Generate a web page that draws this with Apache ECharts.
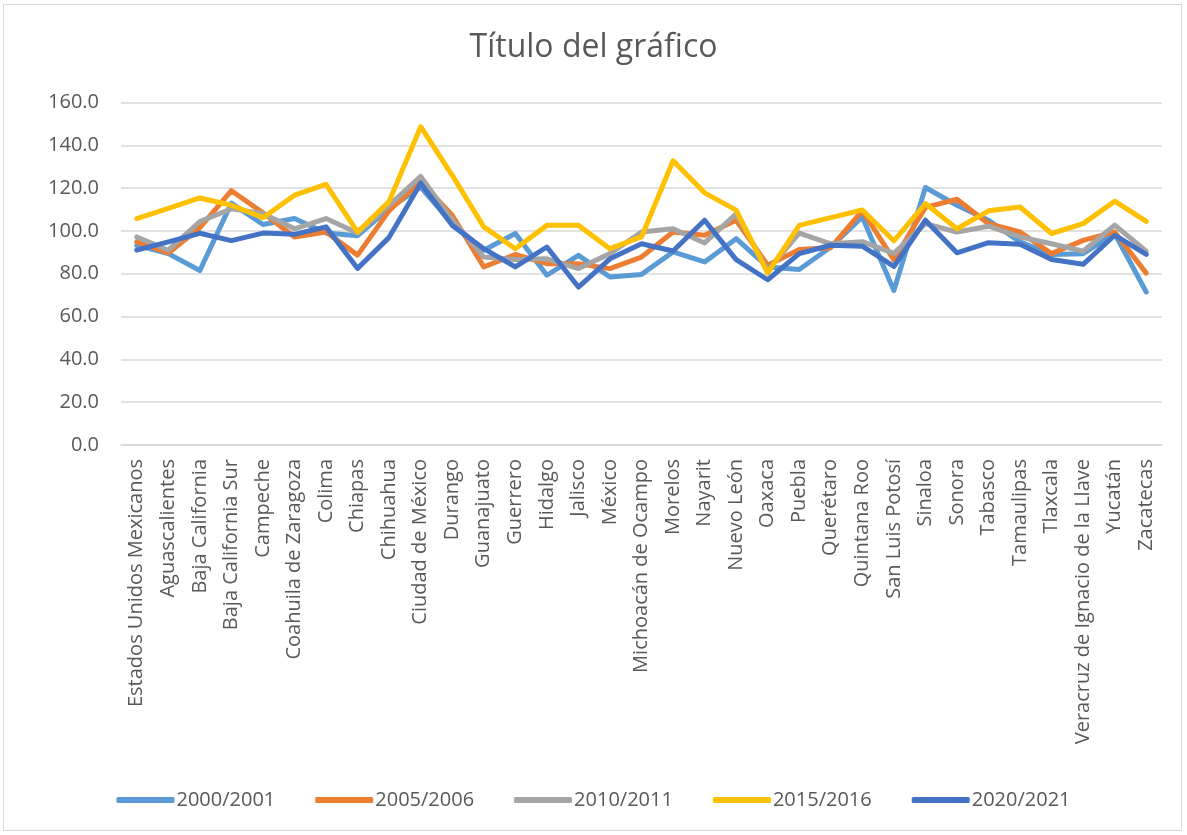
<!DOCTYPE html>
<html>
<head>
<meta charset="utf-8">
<script src="https://cdn.jsdelivr.net/npm/echarts@6/dist/echarts.min.js"></script>
<style>
html,body{margin:0;padding:0;background:#fff;}
#frame{position:absolute;left:3px;top:4px;width:1179px;height:827px;border:1px solid #d9d9d9;box-sizing:border-box;}
#chart{position:absolute;left:0;top:0;width:1187px;height:835px;}
</style>
</head>
<body>
<div id="frame"></div>
<div id="chart"></div>
<script>
const categories = ["Estados Unidos Mexicanos","Aguascalientes","Baja California","Baja California Sur","Campeche","Coahuila de Zaragoza","Colima","Chiapas","Chihuahua","Ciudad de México","Durango","Guanajuato","Guerrero","Hidalgo","Jalisco","México","Michoacán de Ocampo","Morelos","Nayarit","Nuevo León","Oaxaca","Puebla","Querétaro","Quintana Roo","San Luis Potosí","Sinaloa","Sonora","Tabasco","Tamaulipas","Tlaxcala","Veracruz de Ignacio de la Llave","Yucatán","Zacatecas"];
const seriesNames = ["2000/2001","2005/2006","2010/2011","2015/2016","2020/2021"];
const s2000 = [93.3,89.4,81.5,113,103,105.8,99,97.8,110.5,120.5,103.4,91,98.8,79.3,88.6,78.5,79.7,90.2,85.5,96.4,83.2,82,92.5,106.5,72.2,120.3,112,105,94.9,89,89.4,98.8,71.5];
const s2005 = [94.9,89.7,101.5,118.8,108.5,97.2,99.5,88.7,109.5,123,107.3,83.2,89,84.7,84.7,82.4,87.8,99.5,98,105,84,91.3,92.2,109.5,86.5,111,114.8,103.4,99.5,89.4,95.6,99.5,80.3];
const s2010 = [97.2,91,104.4,110.3,108.2,101,105.8,99,112,125.5,105,87.8,86.7,87,82.4,89.4,99.5,101,94.4,108,81.6,99,94,95,89.5,103.4,99.5,102.2,97.2,94,90.5,102.7,90.6];
const s2015 = [105.8,110.5,115.4,112,106.2,116.7,121.7,99.5,113.8,148.7,126,101.9,91.7,102.6,102.6,91.7,97.2,132.8,117.8,109.7,80.3,102.6,106.2,109.8,95.4,112.8,101,109.4,111.2,98.8,103.4,113.9,104.5];
const s2020 = [91,94.9,98.9,95.5,99,98.4,101.9,82.5,97,122.3,102.6,91.7,83.2,92.5,73.8,87,94,90.6,105,86.6,77.2,89.4,93.3,92.9,83.4,105,89.8,94.5,93.8,86.7,84.4,98,89];
const yTicks = {min:0, max:160, interval:20};
const colors = ["#5B9BD5","#ED7D31","#A5A5A5","#FFC000","#4472C4"];
const allData = [s2000,s2005,s2010,s2015,s2020];

const chart = echarts.init(document.getElementById('chart'), null, {renderer:'canvas'});
const font = "'Open Sans', 'Noto Sans', sans-serif";
chart.setOption({
  backgroundColor: 'transparent',
  animation: false,
  title: {
    text: 'Título del gráfico',
    left: 'center',
    top: 27,
    textStyle: {fontFamily: font, fontSize: 32, fontWeight: 'normal', color: '#595959'}
  },
  legend: {
    data: seriesNames,
    bottom: 20,
    left: 'center',
    itemWidth: 58,
    itemHeight: 6,
    itemGap: 40,
    icon: 'roundRect',
    textStyle: {fontFamily: font, fontSize: 20, color: '#595959', padding: [0,0,0,-3]}
  },
  grid: {left: 121, right: 25, top: 102.5, bottom: 390, containLabel: false},
  xAxis: {
    type: 'category',
    data: categories,
    boundaryGap: true,
    axisLine: {show: true, lineStyle: {color: '#d9d9d9', width: 1.5}},
    axisTick: {show: false},
    axisLabel: {rotate: 90, interval: 0, fontFamily: font, fontSize: 20, color: '#595959', margin: 14}
  },
  yAxis: {
    type: 'value',
    min: yTicks.min, max: yTicks.max, interval: yTicks.interval,
    axisLine: {show: false},
    axisTick: {show: false},
    splitLine: {lineStyle: {color: '#d9d9d9', width: 1.5}},
    axisLabel: {fontFamily: font, fontSize: 20, color: '#595959', margin: 22, formatter: v => v.toFixed(1)}
  },
  series: seriesNames.map((n, i) => ({
    name: n,
    type: 'line',
    data: allData[i],
    showSymbol: false,
    symbol: 'none',
    color: colors[i],
    lineStyle: {width: 5, color: colors[i], cap: 'round', join: 'round'}
  }))
});
</script>
</body>
</html>
